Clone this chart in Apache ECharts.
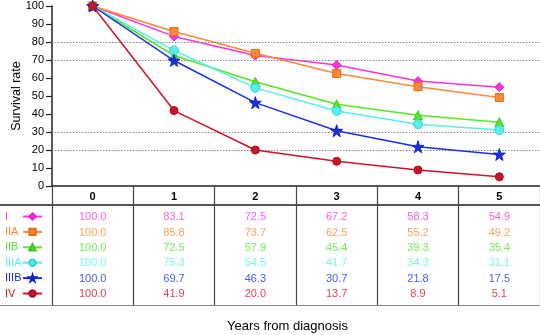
<!DOCTYPE html>
<html>
<head>
<meta charset="utf-8">
<script src="https://cdn.jsdelivr.net/npm/echarts@6/dist/echarts.min.js"></script>
<style>html,body{margin:0;padding:0;background:#fff}#c{width:540px;height:335px}</style>
</head>
<body>
<div id="c"></div>
<script>
var years = ['0', '1', '2', '3', '4', '5'];
var stages = ['I', 'IIA', 'IIB', 'IIIA', 'IIIB', 'IV'];
var valI    = [100.0, 83.1, 72.5, 67.2, 58.3, 54.9];
var valIIA  = [100.0, 85.8, 73.7, 62.5, 55.2, 49.2];
var valIIB  = [100.0, 72.5, 57.9, 45.4, 39.3, 35.4];
var valIIIA = [100.0, 75.3, 54.5, 41.7, 34.3, 31.1];
var valIIIB = [100.0, 69.7, 46.3, 30.7, 21.8, 17.5];
var valIV   = [100.0, 41.9, 20.0, 13.7, 8.9, 5.1];
var gridValues = [80, 70, 30, 20];
var yTicks = [0, 10, 20, 30, 40, 50, 60, 70, 80, 90, 100];

var allVals = [valI, valIIA, valIIB, valIIIA, valIIIB, valIV];
var colors = ['#ff33dd', '#ff8833', '#55e62a', '#55eeee', '#1a2ee6', '#cc1428'];
var borders = ['#e61fc6', '#e66a1a', '#3fc41a', '#33d6d6', '#1020c8', '#b00a1e'];
var symbols = ['diamond', 'rect', 'triangle', 'circle',
  'path://M50,0 L61,35 L98,35 L68,57 L79,91 L50,70 L21,91 L32,57 L2,35 L39,35 Z', 'circle'];
var symSizes = [9, 8, 9, 9, 12, 8];

var FONT = 'Liberation Sans, Arial, sans-serif';
var chart = echarts.init(document.getElementById('c'), null, {renderer: 'canvas'});

var series = [];
series.push({
  type: 'line', name: 'ref', xAxisIndex: 0, yAxisIndex: 0, data: [], z: 1, silent: true,
  markLine: {
    silent: true, symbol: ['none', 'none'], label: {show: false},
    lineStyle: {type: [1.5, 1.5], color: '#888', width: 1},
    data: gridValues.map(function (v) { return {yAxis: v}; })
  }
});
stages.forEach(function (s, i) {
  series.push({
    type: 'line', name: s, xAxisIndex: 0, yAxisIndex: 0, data: allVals[i],
    symbol: symbols[i], symbolSize: symSizes[i], showSymbol: true, z: 3 + i,
    lineStyle: {color: colors[i], width: 1.5},
    itemStyle: {color: colors[i], borderColor: borders[i], borderWidth: 1}
  });
});
stages.forEach(function (s, i) {
  series.push({
    type: 'scatter', name: s + ' table', xAxisIndex: 1, yAxisIndex: 1,
    symbolSize: 1, itemStyle: {color: 'rgba(0,0,0,0)'}, silent: true,
    data: allVals[i].map(function (v, k) { return [k, i, v]; }),
    label: {
      show: true, position: 'inside', color: colors[i], fontSize: 11, fontFamily: FONT,
      formatter: function (p) { return p.value[2].toFixed(1); }
    }
  });
});

var gridBase = {outerBoundsMode: 'none', containLabel: false};

chart.setOption({
  animation: false,
  textStyle: {fontFamily: FONT},
  title: {
    text: 'Years from diagnosis', left: 222, top: 315,
    textStyle: {fontSize: 13, fontWeight: 'normal', color: '#000', fontFamily: FONT}
  },
  legend: {
    orient: 'vertical', left: 5, top: 210, align: 'right', padding: 0,
    itemWidth: 19, itemHeight: 8, itemGap: 2.4,
    formatter: function (name) { return '{a|' + name + '}'; },
    data: stages.map(function (s, i) {
      return {name: s, textStyle: {color: colors[i], rich: {a: {color: colors[i], width: 13, align: 'left', fontSize: 11, fontFamily: FONT}}}};
    }),
    textStyle: {fontSize: 11, fontFamily: FONT, lineHeight: 13},
    selectedMode: false
  },
  grid: [
    Object.assign({left: 52, right: 0, top: 6, height: 180}, gridBase),
    Object.assign({left: 52, right: 0, top: 205, height: 100}, gridBase),
    Object.assign({left: 0, width: 52, top: 205, height: 100}, gridBase)
  ],
  xAxis: [
    {
      gridIndex: 0, type: 'category', data: years, boundaryGap: true,
      axisLine: {onZero: false, lineStyle: {color: '#222', width: 1.5}},
      axisTick: {show: true, length: 19, lineStyle: {color: '#444', width: 1.2}},
      axisLabel: {fontSize: 11, fontWeight: 'bold', color: '#000', margin: 5, fontFamily: FONT},
      splitLine: {show: false}
    },
    {
      gridIndex: 1, type: 'category', data: years, boundaryGap: true, position: 'bottom',
      axisLine: {show: true, onZero: false, lineStyle: {color: '#888', width: 1.2}},
      axisTick: {show: false}, axisLabel: {show: false},
      splitLine: {show: true, lineStyle: {color: '#444', width: 1.2}}
    },
    {
      gridIndex: 1, type: 'category', data: years, boundaryGap: true, position: 'top',
      axisLine: {show: true, onZero: false, lineStyle: {color: '#555', width: 2}},
      axisTick: {show: false}, axisLabel: {show: false}, splitLine: {show: false}
    },
    {
      gridIndex: 2, type: 'value', min: 0, max: 1, position: 'bottom',
      axisLine: {show: true, onZero: false, lineStyle: {color: '#888', width: 1.2}},
      axisTick: {show: false}, axisLabel: {show: false}, splitLine: {show: false}
    },
    {
      gridIndex: 2, type: 'value', min: 0, max: 1, position: 'top',
      axisLine: {show: true, onZero: false, lineStyle: {color: '#555', width: 2}},
      axisTick: {show: false}, axisLabel: {show: false}, splitLine: {show: false}
    }
  ],
  yAxis: [
    {
      gridIndex: 0, type: 'value', min: 0, max: 100, interval: 10,
      name: 'Survival rate', nameLocation: 'middle', nameGap: 29, nameMoveOverlap: false,
      nameTextStyle: {fontSize: 12.5, color: '#000', fontFamily: FONT},
      axisLine: {show: true, onZero: false, lineStyle: {color: '#222', width: 1.5}},
      axisTick: {show: true, length: 6, lineStyle: {color: '#222', width: 1.2}},
      axisLabel: {fontSize: 11, color: '#000', margin: 8, fontFamily: FONT,
        formatter: function (v) { return yTicks.indexOf(v) >= 0 ? String(v) : ''; }},
      splitLine: {show: false}
    },
    {
      gridIndex: 1, type: 'value', min: -0.8, max: 5.7, inverse: true,
      axisLine: {show: false}, axisTick: {show: false}, axisLabel: {show: false},
      splitLine: {show: false}
    },
    {
      gridIndex: 2, type: 'value', min: 0, max: 1,
      axisLine: {show: false}, axisTick: {show: false}, axisLabel: {show: false},
      splitLine: {show: false}
    }
  ],
  series: series
});
</script>
</body>
</html>
